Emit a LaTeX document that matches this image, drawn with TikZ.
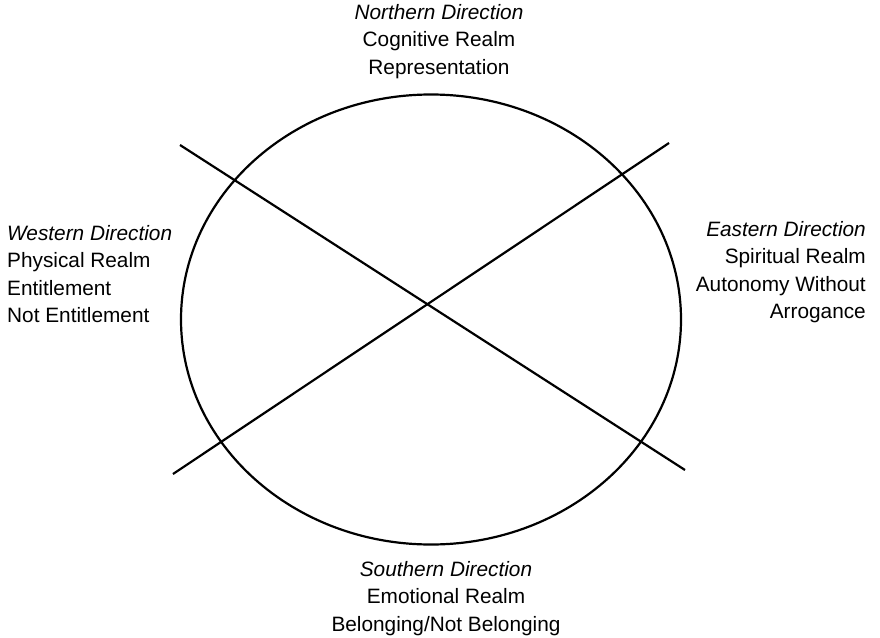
\documentclass[tikz,border=0pt]{standalone}
\usepackage{fontspec}
\setmainfont{Liberation Sans}
\begin{document}
\begin{tikzpicture}[
		x=1pt, y=-1pt, % pixel-like units, y going down
		every node/.style={inner sep=0pt, font=\fontsize{20.8}{27.3}\selectfont},
		rim/.style={line width=2.2pt}
		]
		\useasboundingbox (0,0) rectangle (880,637);
		% Wheel
		\draw[rim] (431,319.5) ellipse [x radius=250pt, y radius=225pt];
		% Cross ends
		\coordinate (nw) at (180,145);
		\coordinate (se) at (685,470);
		\coordinate (sw) at (173,474);
		\coordinate (ne) at (669,143);
		% Cross
		\draw[rim] (nw) -- (se);
		\draw[rim] (sw) -- (ne);
		
		% North
		\node[anchor=north, align=center] (north) at (439,4.4) {\textit{Northern Direction}\\Cognitive Realm\\Representation};
		% West
		\node[anchor=north west, align=left] (west) at (7,225.3) {\textit{Western Direction}\\Physical Realm\\Entitlement\\Not Entitlement};
		% East
		\node[anchor=north east, align=right] (east) at (866,221.3) {\textit{Eastern Direction}\\Spiritual Realm\\Autonomy Without\\Arrogance};
		% South
		\node[anchor=north, align=center] (south) at (446,561.3) {\textit{Southern Direction}\\Emotional Realm\\Belonging/Not Belonging};
	\end{tikzpicture}
\end{document}
